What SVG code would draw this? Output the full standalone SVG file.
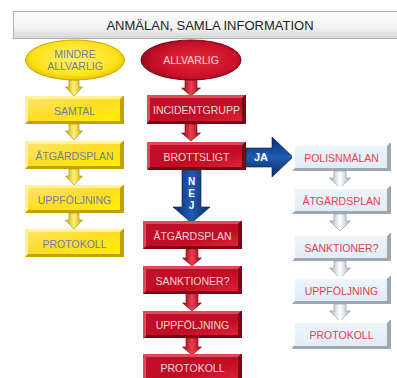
<svg xmlns="http://www.w3.org/2000/svg" width="397" height="378" viewBox="0 0 397 378">
<defs>
<linearGradient id="gTitle" x1="0" y1="0" x2="0" y2="1"><stop offset="0" stop-color="#ffffff"/><stop offset="0.6" stop-color="#f2f2f2"/><stop offset="1" stop-color="#d4d4d4"/></linearGradient>
<linearGradient id="gY" x1="0" y1="0" x2="1" y2="1"><stop offset="0" stop-color="#ffe46a"/><stop offset="0.5" stop-color="#ffdd22"/><stop offset="1" stop-color="#fff000"/></linearGradient>
<linearGradient id="gR" x1="0" y1="0" x2="1" y2="1"><stop offset="0" stop-color="#c40f2a"/><stop offset="0.6" stop-color="#c00c24"/><stop offset="1" stop-color="#de2236"/></linearGradient>
<linearGradient id="gW" x1="0" y1="0" x2="0" y2="1"><stop offset="0" stop-color="#eef5fb"/><stop offset="1" stop-color="#e0ecf6"/></linearGradient>
<radialGradient id="eY" cx="0.5" cy="0.45" r="0.6"><stop offset="0" stop-color="#fff170"/><stop offset="0.7" stop-color="#ffe21a"/><stop offset="1" stop-color="#d9b800"/></radialGradient>
<radialGradient id="eR" cx="0.55" cy="0.5" r="0.6"><stop offset="0" stop-color="#e8283a"/><stop offset="0.7" stop-color="#c8102a"/><stop offset="1" stop-color="#8e0818"/></radialGradient>
<linearGradient id="aY" x1="0" y1="0" x2="1" y2="0"><stop offset="0" stop-color="#c9a800"/><stop offset="0.5" stop-color="#fff27a"/><stop offset="1" stop-color="#c9a800"/></linearGradient>
<linearGradient id="aR" x1="0" y1="0" x2="1" y2="0"><stop offset="0" stop-color="#8e0818"/><stop offset="0.5" stop-color="#ee4050"/><stop offset="1" stop-color="#8e0818"/></linearGradient>
<linearGradient id="aW" x1="0" y1="0" x2="1" y2="0"><stop offset="0" stop-color="#a8b0b8"/><stop offset="0.5" stop-color="#ffffff"/><stop offset="1" stop-color="#a8b0b8"/></linearGradient>
<linearGradient id="aB" x1="0" y1="0" x2="1" y2="0"><stop offset="0" stop-color="#0a2a6a"/><stop offset="0.5" stop-color="#1e5cb0"/><stop offset="1" stop-color="#0a2a6a"/></linearGradient>
<linearGradient id="aBh" x1="0" y1="0" x2="0" y2="1"><stop offset="0" stop-color="#0a2a6a"/><stop offset="0.5" stop-color="#1e5cb0"/><stop offset="1" stop-color="#0a2a6a"/></linearGradient>
<path id="arrowY" d="M-5,0 H5 V7 H8.5 L0,16 L-8.5,7 H-5 Z"/>
<path id="arrowR" d="M-6,0 H6 V9 H9.5 L0,17 L-9.5,9 H-6 Z"/>
<path id="arrowW" d="M-6,0 H6 V7 H10.5 L0,17 L-10.5,7 H-6 Z"/>
<path id="hl" d="M0,0 H98 L95,3 H3 V25 L0,28 Z"/>
</defs>
<style>
text{font-family:"Liberation Sans",Arial,sans-serif;text-anchor:middle;dominant-baseline:central}
.y .s{fill:#c4a000}
.y .h{fill:#fff39a}
.y .f{fill:url(#gY)}
.y text{fill:#6f80a0;font-size:10.5px}
.r .s{fill:#7e0614}
.r .h{fill:#e2485a}
.r .f{fill:url(#gR)}
.r text{fill:#f6d6d8;font-size:10.5px}
.w .s{fill:#9ea8b2}
.w .h{fill:#ffffff}
.w .f{fill:url(#gW)}
.w text{fill:#e8404a;font-size:10.5px}
.cy use{fill:url(#aY);stroke:#a88a00;stroke-width:0.6}
.cr use{fill:url(#aR);stroke:#7a0612;stroke-width:0.6}
.cw use{fill:url(#aW);stroke:#8a929a;stroke-width:0.6}
</style>
<rect width="397" height="378" fill="#ffffff"/>
<g id="title">
<rect x="13.5" y="11.5" width="390" height="27" fill="url(#gTitle)" stroke="#b0b0b0"/>
<text x="210" y="25" font-size="13" fill="#222">ANMÄLAN, SAMLA INFORMATION</text>
</g>
<g id="connectors">
<g class="cy">
<use href="#arrowY" x="74" y="80"/>
<use href="#arrowY" x="74" y="124"/>
<use href="#arrowY" x="74" y="169"/>
<use href="#arrowY" x="74" y="213"/>
</g>
<g class="cr">
<use href="#arrowR" x="191" y="79"/>
<use href="#arrowR" x="191" y="124"/>
<use href="#arrowR" x="192" y="249"/>
<use href="#arrowR" x="192" y="294"/>
<use href="#arrowR" x="192" y="338"/>
</g>
<g class="cw">
<use href="#arrowW" x="340" y="171"/>
<use href="#arrowW" x="340" y="214"/>
<use href="#arrowW" x="340" y="261"/>
<use href="#arrowW" x="340" y="304"/>
</g>
<g id="nej">
<path d="M182,170 H201 V207 H210 L191.5,223 L173,207 H182 Z" fill="url(#aB)" stroke="#061c4a" stroke-width="0.6"/>
<text x="191.5" y="181" font-size="10" font-weight="bold" fill="#ffffff">N</text>
<text x="191.5" y="193" font-size="10" font-weight="bold" fill="#ffffff">E</text>
<text x="191.5" y="205" font-size="10" font-weight="bold" fill="#ffffff">J</text>
</g>
<g id="ja">
<path d="M246,148 H272 V137 L293,157 L272,177 V167 H246 Z" fill="url(#aBh)" stroke="#061c4a" stroke-width="0.6"/>
<text x="261" y="157" font-size="11" font-weight="bold" fill="#ffffff">JA</text>
</g>
</g>
<g id="mindre">
<ellipse cx="75" cy="60" rx="49.5" ry="20" fill="url(#eY)" stroke="#c8a800"/>
<text x="75" y="54" font-size="10.5" fill="#6f80a0">MINDRE</text>
<text x="75" y="66" font-size="10.5" fill="#6f80a0">ALLVARLIG</text>
</g>
<g id="allvarlig">
<ellipse cx="191" cy="60" rx="50" ry="20" fill="url(#eR)" stroke="#7a0612"/>
<text x="191" y="60" font-size="10.5" fill="#f6d6d8">ALLVARLIG</text>
</g>
<g id="y-samtal" class="y" transform="translate(25,96)"><rect class="s" width="99" height="28"/><use href="#hl" class="h"/><rect class="f" x="3" y="3" width="92" height="22"/><text x="49.5" y="14.5">SAMTAL</text></g>
<g id="y-atgard" class="y" transform="translate(25,141)"><rect class="s" width="99" height="28"/><use href="#hl" class="h"/><rect class="f" x="3" y="3" width="92" height="22"/><text x="49.5" y="14.5">ÅTGÄRDSPLAN</text></g>
<g id="y-uppf" class="y" transform="translate(25,185)"><rect class="s" width="99" height="28"/><use href="#hl" class="h"/><rect class="f" x="3" y="3" width="92" height="22"/><text x="49.5" y="14.5">UPPFÖLJNING</text></g>
<g id="y-prot" class="y" transform="translate(25,229)"><rect class="s" width="99" height="28"/><use href="#hl" class="h"/><rect class="f" x="3" y="3" width="92" height="22"/><text x="49.5" y="14.5">PROTOKOLL</text></g>
<g id="r-incident" class="r" transform="translate(147,95)"><rect class="s" width="99" height="29"/><use href="#hl" class="h"/><rect class="f" x="3" y="3" width="92" height="23"/><text x="49.5" y="15">INCIDENTGRUPP</text></g>
<g id="r-brott" class="r" transform="translate(147,142)"><rect class="s" width="99" height="28"/><use href="#hl" class="h"/><rect class="f" x="3" y="3" width="92" height="22"/><text x="49.5" y="14.5">BROTTSLIGT</text></g>
<g id="r-atgard" class="r" transform="translate(143,221)"><rect class="s" width="99" height="28"/><use href="#hl" class="h"/><rect class="f" x="3" y="3" width="92" height="22"/><text x="49.5" y="14.5">ÅTGÄRDSPLAN</text></g>
<g id="r-sankt" class="r" transform="translate(143,266)"><rect class="s" width="99" height="28"/><use href="#hl" class="h"/><rect class="f" x="3" y="3" width="92" height="22"/><text x="49.5" y="14.5">SANKTIONER?</text></g>
<g id="r-uppf" class="r" transform="translate(143,311)"><rect class="s" width="99" height="27"/><use href="#hl" class="h"/><rect class="f" x="3" y="3" width="92" height="21"/><text x="49.5" y="14">UPPFÖLJNING</text></g>
<g id="r-prot" class="r" transform="translate(143,354)"><rect class="s" width="99" height="28"/><use href="#hl" class="h"/><rect class="f" x="3" y="3" width="92" height="22"/><text x="49.5" y="14">PROTOKOLL</text></g>
<g id="w-polis" class="w" transform="translate(292,143)"><rect class="s" width="99" height="28"/><use href="#hl" class="h"/><rect class="f" x="3" y="3" width="92" height="22"/><text x="49.5" y="14.5">POLISNMÄLAN</text></g>
<g id="w-atgard" class="w" transform="translate(292,186)"><rect class="s" width="99" height="28"/><use href="#hl" class="h"/><rect class="f" x="3" y="3" width="92" height="22"/><text x="49.5" y="14.5">ÅTGÄRDSPLAN</text></g>
<g id="w-sankt" class="w" transform="translate(292,233)"><rect class="s" width="99" height="28"/><use href="#hl" class="h"/><rect class="f" x="3" y="3" width="92" height="22"/><text x="49.5" y="14.5">SANKTIONER?</text></g>
<g id="w-uppf" class="w" transform="translate(292,276)"><rect class="s" width="99" height="28"/><use href="#hl" class="h"/><rect class="f" x="3" y="3" width="92" height="22"/><text x="49.5" y="14.5">UPPFÖLJNING</text></g>
<g id="w-prot" class="w" transform="translate(292,320)"><rect class="s" width="99" height="29"/><use href="#hl" class="h"/><rect class="f" x="3" y="3" width="92" height="23"/><text x="49.5" y="15">PROTOKOLL</text></g>
</svg>
